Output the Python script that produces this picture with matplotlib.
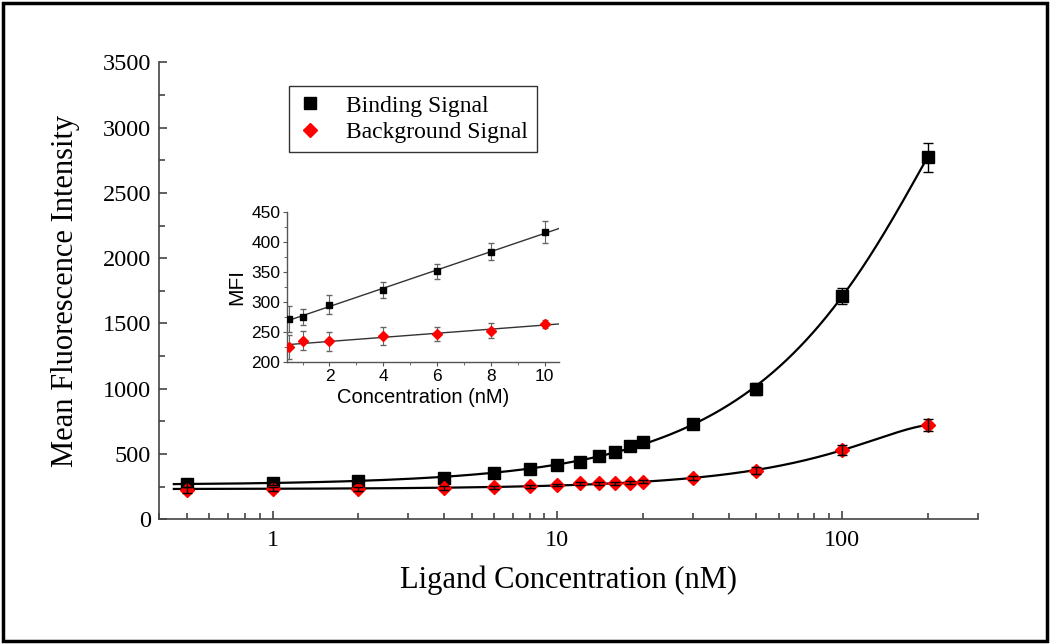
import numpy as np
import matplotlib
matplotlib.use('Agg')
import matplotlib.pyplot as plt
from matplotlib.patches import Rectangle

# concentrations (nM)
conc = [0.5, 1, 2, 4, 6, 8, 10, 12, 14, 16, 18, 20, 30, 50, 100, 200]
binding = [272, 275, 295, 320, 351, 384, 417, 441, 485, 518, 564, 594, 727, 998, 1710, 2772]
binding_err = [22, 14, 16, 14, 13, 14, 19, 15, 15, 15, 18, 20, 25, 45, 64, 110]
background = [224, 235, 234, 243, 246, 252, 263, 276, 275, 276, 281, 288, 314, 372, 531, 722]
background_err = [20, 16, 16, 15, 12, 12, 7, 10, 10, 10, 10, 12, 15, 25, 35, 45]

# inset only uses the low concentrations
n_low = 7

serif = 'Liberation Serif'
sans = 'Liberation Sans'

fig = plt.figure(figsize=(10.5, 6.44), dpi=100)
ax = fig.add_axes([0.1517, 0.1936, 0.9311 - 0.1517, 0.9033 - 0.1936])

x = np.array(conc)
yb = np.array(binding)
yr = np.array(background)

# smooth fitted curves
xs = np.linspace(0.45, 200, 600)
fb = np.poly1d(np.polyfit(x, yb, 3))
fr = np.poly1d(np.polyfit(x, yr, 3))
ax.plot(xs, fb(xs), color='black', lw=1.6, zorder=2)
ax.plot(xs, fr(xs), color='black', lw=1.6, zorder=2)

ax.plot(x, yb, 's', color='black', ms=8, zorder=3, label='Binding Signal')
ax.plot(x, yr, 'D', color='red', ms=7.5, zorder=3, label='Background Signal')
ax.errorbar(x, yb, yerr=binding_err, fmt='none', ecolor='black', elinewidth=1, capsize=3.5, zorder=4)
ax.errorbar(x, yr, yerr=background_err, fmt='none', ecolor='black', elinewidth=1, capsize=3.5, zorder=4)

ax.set_xscale('log')
ax.set_xlim(0.4, 300)
ax.set_ylim(0, 3500)
ax.set_yticks(np.arange(0, 3501, 500))
ax.set_yticks(np.arange(0, 3501, 250), minor=True)
ax.set_xticks([1, 10, 100])
ax.set_xticklabels(['1', '10', '100'])
ax.spines['top'].set_visible(False)
ax.spines['right'].set_visible(False)
for s in ['left', 'bottom']:
    ax.spines[s].set_color('#444444')
    ax.spines[s].set_linewidth(1.2)
ax.tick_params(which='both', direction='in', colors='#444444', labelcolor='black', width=1.2)
ax.tick_params(which='major', length=6, labelsize=17.5)
ax.tick_params(which='minor', length=4)
ax.tick_params(axis='y', pad=6)
ax.tick_params(axis='x', pad=8)
for lab in ax.get_xticklabels() + ax.get_yticklabels():
    lab.set_fontfamily(serif)

ax.set_xlabel('Ligand Concentration (nM)', fontsize=22, family=serif, labelpad=10)
ax.set_ylabel('Mean Fluorescence Intensity', fontsize=22, family=serif, labelpad=16)

leg = ax.legend(loc='upper left', bbox_to_anchor=(289 / 1050, 1 - 85.7 / 644),
                bbox_transform=fig.transFigure, borderaxespad=0, frameon=True,
                fancybox=False, edgecolor='black', handlelength=1.0, handletextpad=1.0,
                borderpad=0.4, labelspacing=0.2, prop={'family': serif, 'size': 17})
leg.get_frame().set_linewidth(1.0)

# inset with the linear low-concentration range
axin = fig.add_axes([0.2736, 0.4384, 0.5324 - 0.2736, 0.6703 - 0.4384])
xl = x[:n_low]
xi = np.linspace(0.4, 10.6, 50)
lb = np.poly1d(np.polyfit(xl, yb[:n_low], 1))
lr = np.poly1d(np.polyfit(xl, yr[:n_low], 1))
axin.plot(xi, lb(xi), color='#333333', lw=1.0, zorder=2)
axin.plot(xi, lr(xi), color='#333333', lw=1.0, zorder=2)
axin.errorbar(xl, yb[:n_low], yerr=binding_err[:n_low], fmt='none', ecolor='#666666',
              elinewidth=0.8, capsize=2, zorder=3)
axin.errorbar(xl, yr[:n_low], yerr=background_err[:n_low], fmt='none', ecolor='#666666',
              elinewidth=0.8, capsize=2, zorder=3)
axin.plot(xl, yb[:n_low], 's', color='black', ms=5, zorder=4)
axin.plot(xl, yr[:n_low], 'D', color='red', ms=5, zorder=4)
axin.set_xlim(0.43, 10.54)
axin.set_ylim(200, 450)
axin.set_xticks([2, 4, 6, 8, 10])
axin.set_xticks([1, 3, 5, 7, 9], minor=True)
axin.set_yticks(np.arange(200, 451, 50))
axin.set_yticks(np.arange(225, 450, 50), minor=True)
axin.spines['top'].set_visible(False)
axin.spines['right'].set_visible(False)
for s in ['left', 'bottom']:
    axin.spines[s].set_color('#555555')
    axin.spines[s].set_linewidth(1.0)
axin.tick_params(which='both', direction='out', colors='#555555', labelcolor='black')
axin.tick_params(which='major', length=3, labelsize=12.5, pad=2)
axin.tick_params(which='minor', length=2)
for lab in axin.get_xticklabels() + axin.get_yticklabels():
    lab.set_fontfamily(sans)
axin.set_xlabel('Concentration (nM)', fontsize=14.5, family=sans, labelpad=3)
axin.set_ylabel('MFI', fontsize=15, family=sans, labelpad=4)

# black frame round the whole figure
fig.patches.append(Rectangle((0.0025, 0.004), 0.995, 0.992, transform=fig.transFigure,
                             fill=False, edgecolor='black', linewidth=2.5))

fig.savefig('out.png', dpi=100)
